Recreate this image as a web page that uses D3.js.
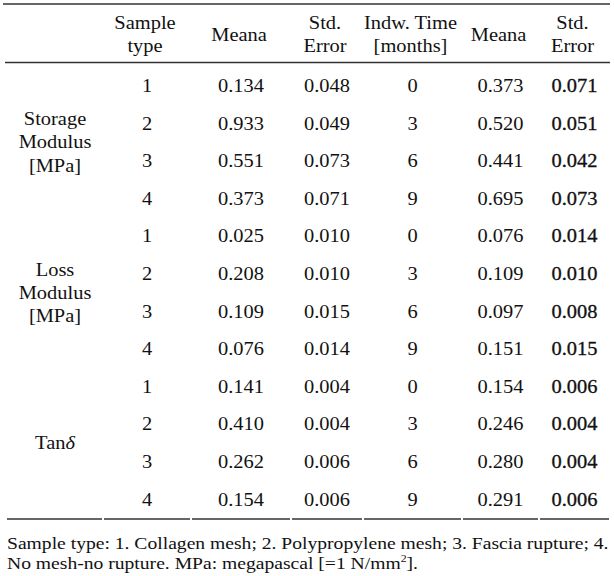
<!DOCTYPE html>
<html>
<head>
<meta charset="utf-8">
<script src="https://cdn.jsdelivr.net/npm/d3@7"></script>
<style>
  html, body { margin: 0; padding: 0; background: #fff; }
  svg { display: block; }
</style>
</head>
<body>
<svg id="chart"></svg>
<script>
// table data
const groups = ["Storage Modulus [MPa]", "Loss Modulus [MPa]", "Tanδ"];
const sampleTypes = [1, 2, 3, 4];
const meanA = [
  [0.134, 0.933, 0.551, 0.373],
  [0.025, 0.208, 0.109, 0.076],
  [0.141, 0.410, 0.262, 0.154]
];
const stdErrA = [
  [0.048, 0.049, 0.073, 0.071],
  [0.010, 0.010, 0.015, 0.014],
  [0.004, 0.004, 0.006, 0.006]
];
const indwTime = [0, 3, 6, 9];
const meanB = [
  [0.373, 0.520, 0.441, 0.695],
  [0.076, 0.109, 0.097, 0.151],
  [0.154, 0.246, 0.280, 0.291]
];
const stdErrB = [
  [0.071, 0.051, 0.042, 0.073],
  [0.014, 0.010, 0.008, 0.015],
  [0.006, 0.004, 0.004, 0.006]
];
const headers = [[""], ["Sample", "type"], ["Meana"], ["Std.", "Error"], ["Indw. Time", "[months]"], ["Meana"], ["Std.", "Error"]];
const footnote = [
  "Sample type: 1. Collagen mesh; 2. Polypropylene mesh; 3. Fascia rupture; 4.",
  "No mesh-no rupture. MPa: megapascal [=1 N/mm"
];

const width = 614, height = 576;
const fontSize = 18.5;
const footSize = 16.5;
const serif = "'Liberation Serif', 'Times New Roman', Times, serif";

const svg = d3.select("#chart")
  .attr("width", width).attr("height", height)
  .attr("font-family", serif);

function measure(s, size) {
  const t = svg.append("text").attr("font-size", size).attr("font-family", serif).text(s);
  const w = t.node().getComputedTextLength();
  t.remove();
  return w;
}

// glyphs in the picture are a bit wider than tall: "0.134" spans about 46px
const stretch = 46 / measure("0.134", fontSize);

// column layout
const colKeys = ["group", "sample", "meanA", "seA", "time", "meanB", "seB"];
const colEdges = [7, 103, 191, 291, 363, 462, 539, 610];
const x = d3.scaleOrdinal()
  .domain(colKeys)
  .range(colKeys.map((k, i) => (colEdges[i] + colEdges[i + 1]) / 2));

// build rows
const rows = [];
groups.forEach((g, gi) => {
  sampleTypes.forEach((s, si) => {
    rows.push({
      group: gi,
      sample: String(s),
      meanA: meanA[gi][si].toFixed(3),
      seA: stdErrA[gi][si].toFixed(3),
      time: String(indwTime[si]),
      meanB: meanB[gi][si].toFixed(3),
      seB: stdErrB[gi][si].toFixed(3)
    });
  });
});

const y = d3.scaleBand()
  .domain(d3.range(rows.length))
  .range([67, 518.2]);

const baseOff = fontSize * 0.338;

function txt(parent, cx, by) {
  return parent.append("text")
    .attr("transform", `translate(${cx},${by}) scale(${stretch},1)`)
    .attr("font-family", serif)
    .attr("font-size", fontSize)
    .attr("fill", "#111");
}

// rules
const rule = "#333";
svg.append("line").attr("x1", 3).attr("x2", 610).attr("y1", 4).attr("y2", 4)
  .attr("stroke", rule).attr("stroke-width", 1.6);
svg.append("line").attr("x1", 5).attr("x2", 610).attr("y1", 62.5).attr("y2", 62.5)
  .attr("stroke", rule).attr("stroke-width", 1.6);
svg.selectAll(".bottom-rule")
  .data(colKeys)
  .enter()
  .append("line")
  .attr("class", "bottom-rule")
  .attr("x1", (d, i) => colEdges[i] + (i ? 1 : 0))
  .attr("x2", (d, i) => colEdges[i + 1] - 1)
  .attr("y1", 519).attr("y2", 519)
  .attr("stroke", rule).attr("stroke-width", 1.6);

// header
const headerBase = [29, 51.5];
const head = svg.append("g").attr("class", "header");
headers.forEach((lines, i) => {
  lines.forEach((t, li) => {
    const by = lines.length === 1 ? 41 : headerBase[li];
    txt(head, x(colKeys[i]) - 2, by)
      .attr("text-anchor", "middle")
      .text(t);
  });
});

// body cells
const body = svg.append("g").attr("class", "body");
const rowG = body.selectAll("g")
  .data(rows)
  .enter()
  .append("g");
colKeys.slice(1).forEach(k => {
  rowG.append("text")
    .attr("transform", (d, i) => `translate(${x(k)},${y(i) + y.bandwidth() / 2 + baseOff}) scale(${stretch},1)`)
    .attr("text-anchor", "middle")
    .attr("font-family", serif)
    .attr("font-size", fontSize)
    .attr("fill", "#111")
    .attr("stroke", k === "seB" ? "#111" : null)
    .attr("stroke-width", k === "seB" ? 0.3 : null)
    .text(d => d[k]);
});

// group labels
const lineGap = 23.3;
groups.forEach((g, gi) => {
  const first = gi * sampleTypes.length;
  const mid = (y(first + 1) + y(first + 2)) / 2 + y.bandwidth() / 2 + baseOff;
  const lines = g === "Tanδ" ? [g] : g.split(" ");
  lines.forEach((t, li) => {
    const by = mid + (li - (lines.length - 1) / 2) * lineGap;
    const el = txt(svg, x("group"), by).attr("text-anchor", "middle");
    if (t === "Tanδ") {
      el.append("tspan").text("Tan");
      el.append("tspan").attr("font-style", "italic").text("δ");
    } else {
      el.text(t);
    }
  });
});

// footnote, first line fitted to its width in the picture
const foot = svg.append("g").attr("class", "footnote");
const fx = 602 / measure(footnote[0], footSize);
foot.append("text")
  .attr("font-family", serif)
  .attr("font-size", footSize)
  .attr("fill", "#111")
  .attr("transform", `translate(7,548.5) scale(${fx},1)`)
  .text(footnote[0]);
const f2 = foot.append("text")
  .attr("font-family", serif)
  .attr("font-size", footSize)
  .attr("fill", "#111")
  .attr("transform", `translate(7,568.5) scale(${fx},1)`);
f2.append("tspan").text(footnote[1]);
f2.append("tspan").attr("font-size", footSize * 0.6).attr("dy", -6.5).text("2");
f2.append("tspan").attr("dy", 6.5).text("].");
</script>
</body>
</html>
